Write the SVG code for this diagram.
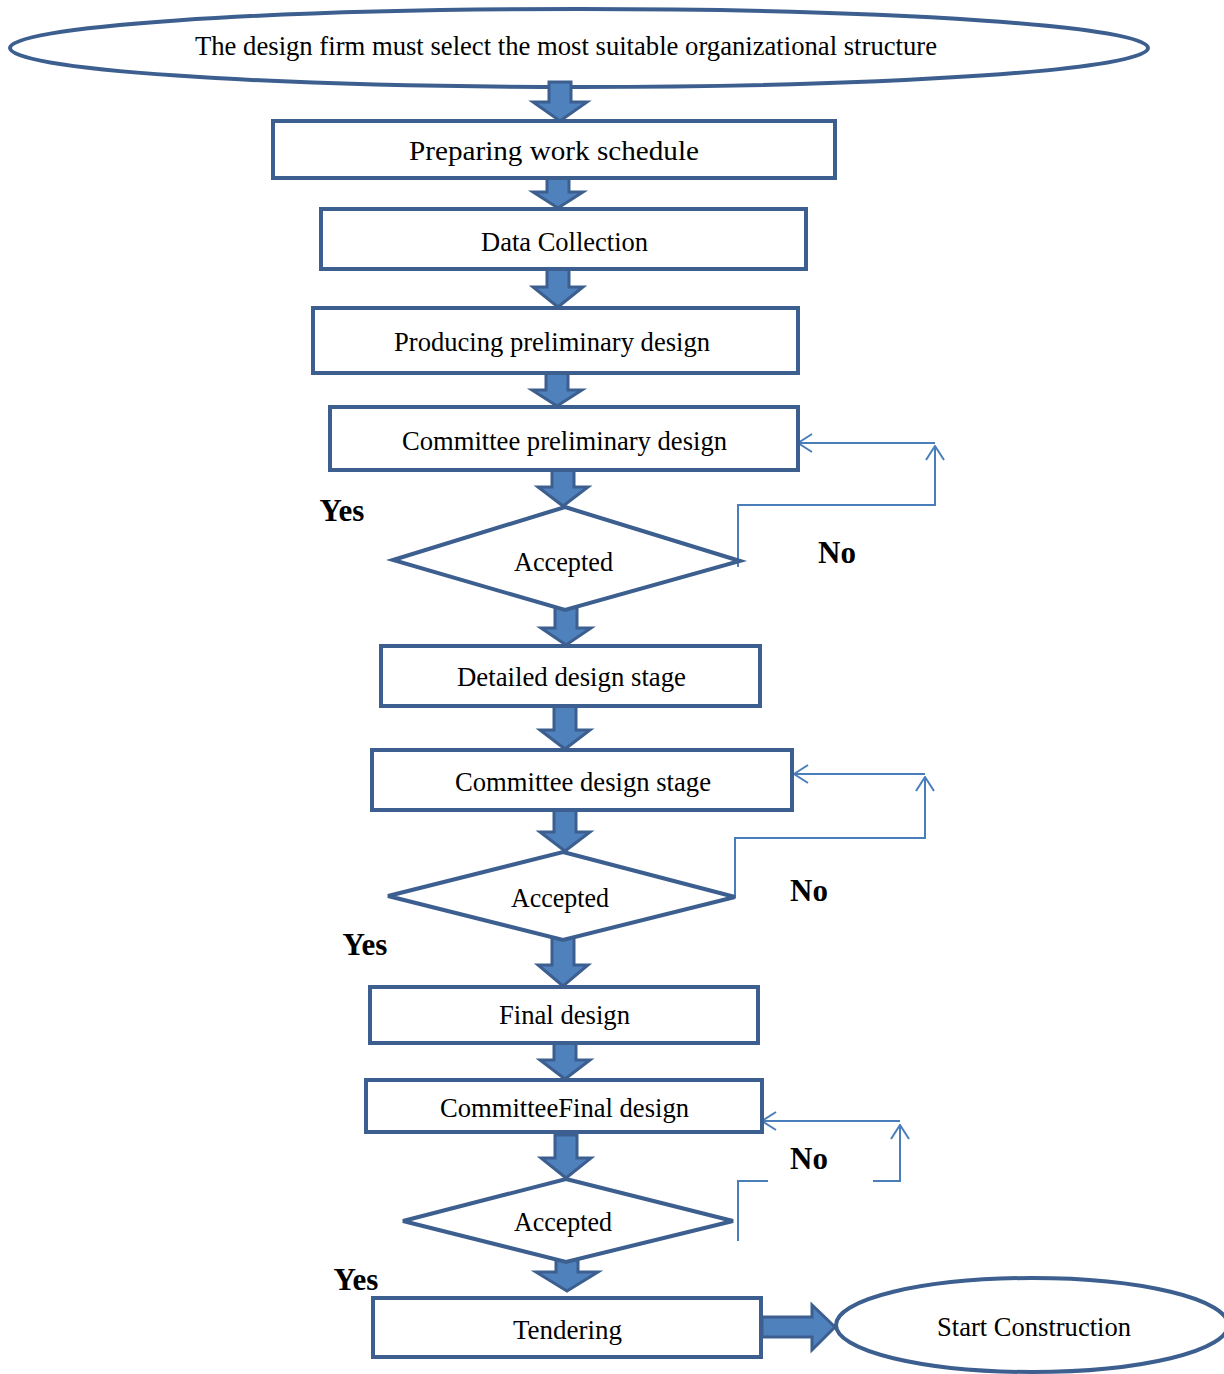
<svg xmlns="http://www.w3.org/2000/svg" width="1224" height="1374" viewBox="0 0 1224 1374">
<style>
.box{fill:#fff;stroke:#3c5f8f;stroke-width:4}
.blk{fill:#4f81bd;stroke:#3c5f8f;stroke-width:3;stroke-linejoin:miter}
.fb{fill:none;stroke:#4a7ebb;stroke-width:2}
.t{font-family:"Liberation Serif","Times New Roman",serif;font-size:26.5px;fill:#000;text-anchor:middle;dominant-baseline:central}
.lbl{font-family:"Liberation Serif","Times New Roman",serif;font-size:31px;font-weight:bold;fill:#000;text-anchor:middle;dominant-baseline:central}
</style>
<defs>
<marker id="open" viewBox="0 0 16 20" refX="15" refY="10" markerWidth="16" markerHeight="20" markerUnits="userSpaceOnUse" orient="auto">
<path d="M1,1 L15,10 L1,19" fill="none" stroke="#4a7ebb" stroke-width="2"/>
</marker>
</defs>
<g id="start">
<ellipse class="box" cx="579" cy="48" rx="569" ry="39"/>
<text class="t" x="566" y="46" font-size="25.5" textLength="742" lengthAdjust="spacingAndGlyphs">The design firm must select the most suitable organizational structure</text>
</g>
<g id="connectors">
<path class="blk" d="M549,82 H571 V102 H587 L560,121 L533,102 H549 Z"/>
<path class="blk" d="M547,178 H569 V192 H583 L558,208 L533,192 H547 Z"/>
<path class="blk" d="M547,263 H569 V287 H583 L558,307 L533,287 H547 Z"/>
<path class="blk" d="M546,366 H568 V390 H582 L557,406 L532,390 H546 Z"/>
<path class="blk" d="M552,470 H574 V487 H588 L563,506 L538,487 H552 Z"/>
<path class="blk" d="M555,607 H577 V628 H591 L566,645 L541,628 H555 Z"/>
<path class="blk" d="M554,700 H576 V730 H590 L565,749 L540,730 H554 Z"/>
<path class="blk" d="M554,810 H576 V832 H590 L565,851 L540,832 H554 Z"/>
<path class="blk" d="M552,936 H574 V965 H588 L563,986 L538,965 H552 Z"/>
<path class="blk" d="M554,1040 H576 V1060 H590 L565,1079 L540,1060 H554 Z"/>
<path class="blk" d="M555,1135 H577 V1158 H591 L566,1178 L541,1158 H555 Z"/>
<path class="blk" d="M556,1258 H578 V1272 H598 L567,1291 L536,1272 H556 Z"/>
<path class="blk" d="M762,1317 H812 V1305 L835,1327 L812,1350 V1337 H762 Z"/>
<path class="fb" d="M738,567 V505 H935 V446" marker-end="url(#open)"/>
<path class="fb" d="M935,443 H798" marker-end="url(#open)"/>
<path class="fb" d="M735,898 V838 H925 V777" marker-end="url(#open)"/>
<path class="fb" d="M925,774 H794" marker-end="url(#open)"/>
<path class="fb" d="M738,1241 V1181 H768"/>
<path class="fb" d="M873,1181 H900 V1125" marker-end="url(#open)"/>
<path class="fb" d="M900,1121 H762" marker-end="url(#open)"/>
</g>
<g id="n1"><rect class="box" x="273" y="121" width="562" height="57"/><text class="t" x="554" y="151" font-size="28.5" textLength="290" lengthAdjust="spacingAndGlyphs">Preparing work schedule</text></g>
<g id="n2"><rect class="box" x="321" y="209" width="485" height="60"/><text class="t" x="564.5" y="242" textLength="167" lengthAdjust="spacingAndGlyphs">Data Collection</text></g>
<g id="n3"><rect class="box" x="313" y="308" width="485" height="65"/><text class="t" x="552" y="342" textLength="316" lengthAdjust="spacingAndGlyphs">Producing preliminary design</text></g>
<g id="n4"><rect class="box" x="330" y="407" width="468" height="63"/><text class="t" x="564.5" y="441" textLength="325" lengthAdjust="spacingAndGlyphs">Committee preliminary design</text></g>
<g id="d1"><polygon class="box" points="565,507 740,561 565,610 393,560"/><text class="t" x="563.5" y="562" textLength="99" lengthAdjust="spacingAndGlyphs">Accepted</text></g>
<g id="n5"><rect class="box" x="381" y="646" width="379" height="60"/><text class="t" x="571.5" y="677" textLength="229" lengthAdjust="spacingAndGlyphs">Detailed design stage</text></g>
<g id="n6"><rect class="box" x="372" y="750" width="420" height="60"/><text class="t" x="583" y="782" textLength="256" lengthAdjust="spacingAndGlyphs">Committee design stage</text></g>
<g id="d2"><polygon class="box" points="563,852 735,897 563,940 388,896"/><text class="t" x="560" y="898" textLength="98" lengthAdjust="spacingAndGlyphs">Accepted</text></g>
<g id="n7"><rect class="box" x="370" y="987" width="388" height="56"/><text class="t" x="564.5" y="1015" textLength="131" lengthAdjust="spacingAndGlyphs">Final design</text></g>
<g id="n8"><rect class="box" x="366" y="1080" width="396" height="52"/><text class="t" x="564.5" y="1108" textLength="249" lengthAdjust="spacingAndGlyphs">CommitteeFinal design</text></g>
<g id="d3"><polygon class="box" points="566,1179 733,1221 566,1262 403,1221"/><text class="t" x="563" y="1222" textLength="98" lengthAdjust="spacingAndGlyphs">Accepted</text></g>
<g id="n9"><rect class="box" x="373" y="1298" width="388" height="59"/><text class="t" x="567.5" y="1330" textLength="109" lengthAdjust="spacingAndGlyphs">Tendering</text></g>
<g id="end"><ellipse class="box" cx="1032" cy="1325" rx="196" ry="47"/><text class="t" x="1034" y="1327" textLength="194" lengthAdjust="spacingAndGlyphs">Start Construction</text></g>
<g id="labels">
<text class="lbl" x="342" y="510">Yes</text>
<text class="lbl" x="837" y="552">No</text>
<text class="lbl" x="809" y="890">No</text>
<text class="lbl" x="365" y="944">Yes</text>
<text class="lbl" x="809" y="1158">No</text>
<text class="lbl" x="356" y="1279">Yes</text>
</g>
</svg>
